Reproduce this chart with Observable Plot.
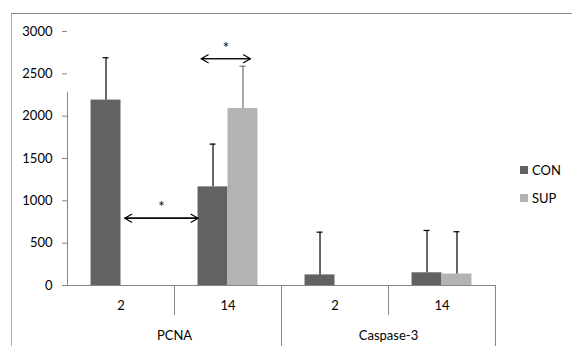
<!DOCTYPE html>
<html>
<head>
<meta charset="utf-8">
<script src="https://cdn.jsdelivr.net/npm/d3@7"></script>
<script src="https://cdn.jsdelivr.net/npm/@observablehq/plot@0.6"></script>
<style>
  html, body { margin: 0; padding: 0; background: #fff; }
  #wrap { position: relative; width: 572px; height: 346px; }
  #legend { position: absolute; left: 520px; top: 163px; font: 13px Lato, sans-serif; color: #000; }
  #legend div { display: flex; align-items: center; height: 14px; margin-bottom: 14px; }
  #legend span.sw { display: inline-block; width: 8px; height: 8px; margin-right: 4px; }
</style>
</head>
<body>
<div id="wrap"><div id="legend"></div></div>
<script>
// ---- data ----
const groups = ["PCNA", "PCNA", "Caspase-3", "Caspase-3"];
const days = ["2", "14", "2", "14"];
const series = ["CON", "SUP"];
const conMean = [2190, 1165, 125, 150];
const conErr = [500, 505, 505, 500];
const supMean = [null, 2090, null, 135];
const supErr = [null, 500, null, 500];
const yTicks = [0, 500, 1000, 1500, 2000, 2500, 3000];
const groupNames = ["PCNA", "Caspase-3"];
// significance annotations (category units, value units)
const sigFrom = [0.535, 1.25];
const sigTo = [1.22, 1.71];
const sigY = [795, 2678];
const sigLabel = ["*", "*"];

const colors = {CON: "#626262", SUP: "#b3b3b3"};
const barW = 0.28;

// ---- build rows ----
const rows = [];
days.forEach((d, i) => {
  if (conMean[i] != null) rows.push({i, series: "CON", v: conMean[i], e: conErr[i], x1: i + 0.5 - barW, x2: i + 0.5});
  if (supMean[i] != null) rows.push({i, series: "SUP", v: supMean[i], e: supErr[i], x1: i + 0.5, x2: i + 0.5 + barW});
});
rows.forEach(r => { r.cx = (r.x1 + r.x2) / 2; r.top = r.v + r.e; });
const cats = days.map((d, i) => ({i, label: d, c: i + 0.5}));
const grp = groupNames.map((g, k) => ({g, c: 2 * k + 1}));
const sig = sigFrom.map((a, k) => ({a, b: sigTo[k], y: sigY[k], m: (a + sigTo[k]) / 2, t: sigLabel[k]}));
const errStroke = r => (groups[r.i] === "PCNA" && r.series === "SUP") ? "#707070" : "#000";
const font = "Lato, sans-serif";

const chart = Plot.plot({
  width: 572,
  height: 346,
  marginLeft: 67,
  marginRight: 77,
  marginTop: 31,
  marginBottom: 61,
  style: {fontFamily: font, fontSize: "13px", background: "transparent", overflow: "visible"},
  x: {type: "linear", domain: [0, 4], axis: null},
  y: {domain: [0, 3000], axis: null},
  color: {domain: series, range: series.map(s => colors[s])},
  marks: [
    // outer chart border (left and top)
    Plot.frame({anchor: "left", stroke: "#b0b0b0", insetLeft: -56, insetTop: -18, insetBottom: -61}),
    Plot.frame({anchor: "top", stroke: "#8c8c8c", insetLeft: -56, insetTop: -18, insetRight: -77}),
    // bars
    Plot.rectY(rows, {x1: "x1", x2: "x2", y1: 0, y2: "v", fill: "series"}),
    // error bars (upper only)
    Plot.ruleX(rows, {x: "cx", y1: "v", y2: "top", stroke: errStroke, strokeWidth: 1.2}),
    Plot.ruleY(rows, {x1: "cx", x2: "cx", y: "top", insetLeft: -3, insetRight: -3, stroke: errStroke, strokeWidth: 1.2}),
    // y axis
    Plot.ruleX([0], {y1: 0, y2: 3000, stroke: "#868686", insetBottom: -61}),
    Plot.axisY({ticks: yTicks, tickFormat: d3.format("d"), tickSize: 5, tickPadding: 10, stroke: "#868686", fill: "#000", fontSize: 13}),
    // x axis
    Plot.ruleY([0], {x1: 0, x2: 4, stroke: "#868686"}),
    Plot.ruleX([1, 3], {x: d => d, y1: 0, y2: 0, insetBottom: -30, stroke: "#868686"}),
    Plot.ruleX([2, 4], {x: d => d, y1: 0, y2: 0, insetBottom: -61, stroke: "#868686"}),
    Plot.text(cats, {x: "c", y: 0, text: "label", dy: 20, fontSize: 13, fill: "#000"}),
    Plot.text(grp, {x: "c", y: 0, text: "g", dy: 50, fontSize: 13, fill: "#000"}),
    // significance arrows
    Plot.arrow(sig, {x1: "a", x2: "b", y1: "y", y2: "y", headLength: 10, headAngle: 60, stroke: "#000", strokeWidth: 1.2}),
    Plot.arrow(sig, {x1: "b", x2: "a", y1: "y", y2: "y", headLength: 10, headAngle: 60, stroke: "#000", strokeWidth: 1.2}),
    Plot.text(sig, {x: "m", y: "y", text: "t", dy: -11, fontSize: 15, fill: "#000"})
  ]
});
document.getElementById("wrap").prepend(chart);

// legend
const lg = document.getElementById("legend");
series.forEach(s => {
  const row = document.createElement("div");
  const sw = document.createElement("span");
  sw.className = "sw";
  sw.style.background = colors[s];
  row.appendChild(sw);
  row.appendChild(document.createTextNode(s));
  lg.appendChild(row);
});
</script>
</body>
</html>
